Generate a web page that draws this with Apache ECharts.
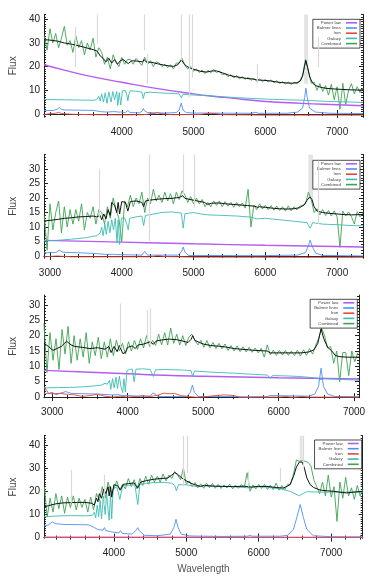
<!DOCTYPE html>
<html><head><meta charset="utf-8">
<script src="https://cdn.jsdelivr.net/npm/echarts/dist/echarts.min.js"></script>
<style>html,body{margin:0;padding:0;background:#fff}#c{width:374px;height:583px}</style>
</head><body><div id="c"></div>
<script>
// ---------------- DATA ----------------
const STEP = 40; // sampling of observed spectra (Angstrom)
const legendNames = ['Power law', 'Balmer lines', 'Iron', 'Galaxy', 'Combined'];

// Tick labels
const xTicks1 = [4000, 5000, 6000, 7000];
const xTicks2 = [3000, 4000, 5000, 6000, 7000];
const xTicks3 = [3000, 4000, 5000, 6000, 7000];
const xTicks4 = [4000, 5000, 6000, 7000];
const yTicks1 = [0, 10, 20, 30, 40];
const yTicks2 = [0, 5, 10, 15, 20, 25, 30];
const yTicks3 = [0, 5, 10, 15, 20, 25, 30];
const yTicks4 = [0, 10, 20, 30, 40];

// ----- Panel 1 -----
const greenStart1 = 2920;
const green1 = [33,27,36,30,34,28,32,37,29,31,
  26,33,28,31,25,30,27,32,24,28,
  26,21,24,19,25,22,20,24,21,23,
  23,21,23.5,22,20.5,24,21,22.5,20,22,
  21.5,20,21,19.5,20.8,19,21.5,21.5,23.5,20.5,
  19,20,18,19,17.5,18.6,17,18.5,17.4,18.8,
  17.5,18.2,16.5,17,15.8,16.6,15.2,16.2,14.8,15.8,
  14.6,15.5,14.2,15.1,13.8,14.8,13.6,14.6,13.5,14.4,
  13.2,14.1,12.8,13.7,12.7,13.5,12.5,13.4,12.8,13.9,
  16.5,23,18.5,13,13.5,10,12.8,9.5,12,8,
  12.5,6,11.5,2,13,4,10,12.8,8.5,11.5,
  9,11];
const black1 = [[2917,31.4],[3000,31.2],[3100,30.8],[3200,30.0],[3300,29.5],[3400,28.8],[3500,28.0],[3600,27.2],[3660,26.5],[3700,24.5],[3740,23.5],[3780,22],[3820,23.5],[3860,21.5],[3900,23],[3940,21],[3980,22.5],[4020,23],[4060,22],[4090,21.3],[4140,22.5],[4220,22.3],[4290,22],[4310,23],[4340,22],[4420,21.8],[4500,21.2],[4580,20.7],[4660,20.3],[4720,20.1],[4780,20.8],[4810,22],[4830,22.9],[4860,21.5],[4900,20.2],[4960,19.3],[5020,18.7],[5100,18],[5180,17.7],[5260,18.2],[5320,18.2],[5400,17.4],[5500,16.3],[5580,15.8],[5660,15.4],[5740,15],[5820,14.8],[5880,14.4],[5900,14.6],[5980,14.2],[6060,14],[6140,13.6],[6220,13.3],[6300,13.1],[6380,13],[6440,13.2],[6490,14],[6520,16],[6545,20],[6565,22.6],[6590,19.5],[6620,15.5],[6660,13],[6700,12],[6780,11.2],[6860,10.8],[6940,10.6],[7060,10.4],[7180,10.2],[7300,10.1],[7361,10.2]];
const galaxy1 = [[2917,6.1],[3200,6.0],[3400,5.9],[3600,5.8],[3650,6.0],[3680,7.5],[3700,5.5],[3720,8.5],[3745,5.0],[3770,9.0],[3795,4.5],[3820,9.3],[3850,5.0],[3875,9.5],[3900,6.0],[3930,9.5],[3945,3.6],[3965,9.0],[3985,3.8],[4010,9.8],[4050,9.9],[4070,8],[4085,5.5],[4100,8.5],[4120,9.8],[4200,9.6],[4280,9.2],[4300,6.5],[4320,9.0],[4400,9.2],[4500,9.0],[4600,8.8],[4700,8.7],[4800,8.5],[4815,9.2],[4830,6.8],[4850,8.3],[5000,8.0],[5200,7.7],[5400,7.3],[5600,6.9],[5800,6.6],[6000,6.3],[6200,6.1],[6400,5.9],[6545,5.8],[6565,5.2],[6590,5.7],[6800,5.4],[7000,5.2],[7361,4.9]];
const power1 = [[2917,20.8],[3200,18.5],[3500,16.3],[4000,13.4],[4500,10.7],[5000,8.5],[5330,7.3],[5500,6.8],[6000,5.3],[6500,4.5],[7000,3.9],[7361,3.5]];
const balmer1 = [[2917,1.4],[3050,1.5],[3100,2.0],[3130,2.7],[3160,2.0],[3200,1.7],[3400,1.6],[3600,1.5],[3650,1.3],[3700,1.0],[3800,0.8],[3870,1.0],[3889,1.8],[3910,1.0],[3955,0.8],[3970,1.3],[3985,0.8],[4050,0.6],[4085,1.5],[4115,0.6],[4250,0.5],[4285,1.3],[4300,2.3],[4315,1.4],[4360,0.6],[4600,0.4],[4760,0.6],[4800,1.6],[4828,4.6],[4855,1.6],[4900,0.6],[5000,0.4],[5800,0.3],[5870,0.7],[5900,0.3],[6300,0.3],[6450,0.8],[6520,2.5],[6548,7],[6566,10.9],[6584,7],[6615,2.5],[6700,0.8],[6900,0.3],[7361,0.2]];
const iron1 = [[2917,-0.2],[3000,0.1],[3080,0.3],[3120,0.7],[3160,0.2],[3300,-0.1],[3600,-0.3],[4000,-0.4],[4300,-0.3],[4450,0.2],[4500,0.6],[4560,0.1],[4700,-0.3],[5100,-0.2],[5200,0.3],[5300,0.2],[5400,-0.3],[6000,-0.5],[7361,-0.5]];
const mask1 = [[3347,19.8,36.7],[3662,29.7,42],[4320,26.9,42],[4356,12.7,25.4],[4825,22.6,42],[4935,7,42],[4981,15.5,42],[5884,12.7,21.2],[6741,19.8,32.5]];
const band1 = [6540,6597,12.7,42];

// ----- Panel 2 -----
const greenStart2 = 2920;
const green2 = [14,2,18,9,15,19,8,17,10,16,
  11,16,12,18,9,15,13,17,11,16,
  15,11,17,13,20,16,13,5,19,17,
  21,17,20,18,22,15,20,18,23,19,
  21,18.5,22,19,21.5,18,22,19.5,22.5,21,
  18.5,20.5,18,20,18,19.5,17,18.5,17,19,
  17.5,19,17,18.8,17.2,18.5,16.8,18.5,17,18.3,
  16.5,23,10,17.5,16,18,16.2,17.5,16,17.4,
  15.8,17.2,15.7,17,15.5,17.3,15.6,17,15.9,17.2,
  17.5,18,22,19.5,15,16.3,14.2,16,14,15.7,
  13.8,15.6,13.5,3,15.5,13.8,15.2,13.6,11,15.3,
  13.5,15];
const black2 = [[2917,12.1],[3000,12.3],[3100,12.6],[3200,13.0],[3300,13.2],[3400,13.5],[3500,13.6],[3600,13.8],[3650,13.5],[3700,14],[3720,12.5],[3750,14.5],[3780,12.8],[3810,16],[3840,14],[3860,18.5],[3900,17.5],[3930,15],[3950,18.5],[3970,14.5],[4000,18.8],[4050,18.5],[4085,15.5],[4120,18.8],[4200,19],[4280,18.5],[4305,17],[4330,19],[4400,19.3],[4500,19.6],[4600,19.8],[4700,19.9],[4800,20.2],[4850,20.8],[4880,19.9],[4950,19.5],[5050,19],[5150,18.5],[5200,17.8],[5250,18.2],[5350,18.3],[5450,18],[5550,17.8],[5650,17.6],[5750,17.4],[5850,17.2],[5890,16.8],[5920,17],[6000,16.8],[6100,16.5],[6200,16.3],[6300,16.2],[6400,16.3],[6480,16.7],[6540,17.6],[6580,19.2],[6620,20.4],[6650,19.5],[6680,17],[6720,15.5],[6800,15],[6900,14.7],[7000,14.5],[7100,14.3],[7200,14.2],[7361,14.3]];
const galaxy2 = [[2917,5.2],[3100,5.4],[3300,5.8],[3500,6.3],[3600,6.8],[3650,7.0],[3700,8.0],[3720,10],[3740,7],[3765,11],[3785,7.5],[3810,12],[3835,8],[3860,12.5],[3885,9],[3910,13],[3935,4.5],[3950,12.5],[3970,4.0],[3995,13],[4040,13.2],[4070,11],[4090,9],[4110,13],[4200,13.5],[4280,13.8],[4305,10.5],[4330,14],[4450,14.5],[4550,15],[4700,15.2],[4830,14.8],[4856,9.6],[4880,14.6],[5000,15],[5100,14.5],[5200,14.2],[5400,14],[5600,13.8],[5800,13.4],[5880,12.8],[5900,13.3],[6000,13],[6200,12.5],[6400,12],[6580,11.5],[6625,9.6],[6660,11.5],[6800,11],[7000,10.8],[7200,10.5],[7361,10.4]];
const power2 = [[2917,5.4],[4000,4.8],[5000,4.2],[6000,3.7],[7361,3.1]];
const balmer2 = [[2917,1.1],[3080,1.2],[3130,2.0],[3180,1.3],[3400,1.1],[3600,0.9],[3800,0.5],[3870,0.6],[3889,1.2],[3910,0.5],[4070,0.4],[4090,0.9],[4110,0.4],[4280,0.3],[4320,1.6],[4360,0.3],[4780,0.3],[4830,1.3],[4856,3.1],[4880,1.3],[4930,0.2],[5900,0.1],[6450,0.3],[6560,1.2],[6600,3.5],[6625,5.5],[6650,3.5],[6700,1.0],[6800,0.2],[7361,0.0]];
const iron2 = [[2917,-0.3],[3100,0.0],[3300,-0.3],[4400,-0.3],[4500,0.1],[4600,-0.2],[5000,-0.4],[7361,-0.5]];
const mask2 = [[3685,13.3,30],[4380,5.2,35],[4856,21.3,35],[5005,16.7,35],[6740,11,32.9]];
const band2 = [6600,6665,19.6,35];

// ----- Panel 3 -----
const greenStart3 = 2890;
const green3 = [24,8,21,12,19,9,22,14,23,11,
  20,12,19,13,21,11,18,13.5,19.5,12.5,
  18,13,19,13.5,18.5,15,17.5,14,18,15,
  18.5,15.5,19,16,20,16.5,18.5,16.8,20.5,17,
  21,17,22.5,17.5,20.5,17,20,16.8,19.5,20.5,
  18.5,17,18.5,16.2,18.4,16,17.8,15.8,17.5,15.7,
  17.3,15.2,16.8,15,16.7,14.8,16.4,14.7,16.2,14.6,
  16,14.4,15.9,13,17,13.8,15.3,13.6,15.2,13.7,
  15.2,13.6,15,13.5,15.3,13.4,15.4,13.6,15.8,14,
  16.8,19,22.5,20,16,16.5,11,15,5,14.5,
  14.5,7,15,11.5,14.5];
const black3 = [[2891,17.5],[2950,16.5],[3010,15.2],[3060,15.8],[3120,16.5],[3190,18.2],[3250,17],[3300,16.5],[3400,16.2],[3500,15.8],[3600,16.1],[3700,15.6],[3750,16.5],[3780,14.5],[3820,16.5],[3860,14.8],[3890,16.8],[3935,14.2],[3970,14.5],[4000,16.2],[4060,16.7],[4100,15.8],[4140,17],[4200,17.2],[4300,18],[4340,17.2],[4380,18.3],[4450,18.6],[4550,18.9],[4650,18.7],[4720,18.3],[4800,17.8],[4840,18.8],[4862,20],[4890,18.5],[4950,17.8],[5000,17.3],[5100,16.8],[5200,16.6],[5300,16.3],[5413,15.8],[5500,15.6],[5600,15.4],[5700,15.2],[5850,15],[5890,14.4],[6000,14.4],[6100,14.4],[6200,14.4],[6300,14.4],[6400,14.7],[6470,15.4],[6520,17.5],[6563,22.2],[6600,19],[6650,16.2],[6700,15.2],[6750,13.6],[6800,13.2],[6900,13],[7000,13],[7066,13]];
const galaxy3 = [[2891,3.0],[3100,3.1],[3300,3.2],[3500,3.5],[3650,3.9],[3700,4.5],[3730,4.2],[3760,5.5],[3775,2.5],[3800,6.0],[3820,3.0],[3845,6.5],[3865,2.8],[3890,6.8],[3910,3.5],[3934,1.5],[3950,6],[3969,1.7],[3990,8.5],[4020,9.0],[4060,9.1],[4085,5.0],[4110,9.1],[4200,9.2],[4300,9.0],[4340,6.7],[4370,8.9],[4500,9.0],[4600,8.9],[4750,8.8],[4840,8.6],[4862,6.7],[4885,8.5],[5000,8.3],[5200,8.0],[5413,7.8],[5600,7.5],[5850,7.2],[5890,6.1],[5920,7.0],[6100,6.9],[6289,6.7],[6500,6.2],[6563,5.7],[6600,6.0],[6800,5.8],[7066,5.5]];
const power3 = [[2891,8.7],[3500,8.1],[4000,7.6],[4500,7.1],[5000,6.8],[6000,6.3],[7066,5.9]];
const balmer3 = [[2891,1.2],[3000,1.1],[3100,1.2],[3180,1.8],[3250,1.2],[3400,1.1],[3600,1.0],[3800,0.7],[3870,0.8],[3889,1.4],[3905,0.6],[3955,0.5],[3970,1.0],[3985,0.5],[4080,0.4],[4100,1.0],[4120,0.3],[4300,0.3],[4330,1.3],[4345,1.8],[4360,1.1],[4400,0.2],[4780,0.2],[4830,1.5],[4858,3.9],[4885,1.5],[4940,0.2],[5850,0.1],[5877,0.5],[5900,0.1],[6400,0.3],[6480,1.0],[6530,3.5],[6563,9.4],[6595,3.5],[6650,1.0],[6750,0.2],[7066,0.1]];
const iron3 = [[2891,2.8],[2920,2.5],[2950,1.2],[3000,1.5],[3050,0.8],[3100,1.2],[3200,0.9],[3300,0.7],[3400,0.2],[3500,0.5],[3600,0.9],[3700,0.3],[3800,0.0],[3900,0.3],[4000,0.0],[4100,0.2],[4200,0.4],[4300,0.2],[4400,0.6],[4480,1.3],[4550,1.1],[4620,1.2],[4700,0.5],[4800,0.2],[4900,0.0],[5000,0.0],[5100,0.3],[5200,0.6],[5300,0.7],[5400,0.5],[5450,0.2],[5500,-0.2],[5700,0.0],[6000,0.0],[6100,0.2],[6200,-0.1],[6300,0.2],[6400,0.0],[7066,0.0]];
const mask3 = [[3735,21.7,33.3],[3905,16.1,30.5],[4260,18.3,28.3],[4300,16.1,28.9],[4855,20.5,33.3],[4965,18.3,33.3],[5005,16.1,33.3],[6555,23.9,33.3],[6750,16.1,33.3]];
const band3 = null;

// ----- Panel 4 -----
const greenStart4 = 3040;
const green4 = [22,9,17,11,19,12.5,18,10.5,17.5,13,
  18,12,17,13,16.5,11,17.5,12,19,16,
  22,17,24,19.5,21,24.5,20.5,23,21,25.5,
  22,25,21,25.5,22.5,26.5,23,27,24,26.5,
  24,27.5,24.5,27,25.5,28.5,27,25,30,23,
  24.5,22,23.8,21.5,23.2,21.3,23.5,21.5,23.4,21.3,
  23,21.2,22.8,21.4,23.1,21,22.7,21.3,22.9,21.5,
  28,20,22.8,21,23,21.2,23,20.8,22.6,20.7,
  23.5,20.5,22.5,20.8,23,23,27.5,33.5,33,33.2,
  33,32.5,31,25,22,19,24,18,27,17.5,
  22,7,24,17,26,18,21.5,16.5,22.5,18,
  21];
const black4 = [[3036,13.3],[3100,13.8],[3200,14.6],[3300,15],[3400,15.1],[3500,15.2],[3600,15.2],[3700,14.8],[3730,14.0],[3760,17],[3780,15.5],[3800,19],[3830,17],[3860,21],[3890,19],[3920,22],[3935,18],[3955,22],[3970,17.5],[4000,22.8],[4050,22.5],[4090,20.5],[4130,23],[4200,23.3],[4280,23.6],[4330,21.4],[4370,24],[4450,24.6],[4550,25.2],[4650,25.5],[4740,25.7],[4800,27],[4840,28.1],[4880,27.3],[4940,25.7],[5010,24.3],[5100,23],[5194,22.1],[5250,22.6],[5300,22.4],[5400,22.2],[5500,22.1],[5650,22.0],[5800,22.2],[5900,21.8],[6000,22.1],[6112,22.1],[6250,21.6],[6342,21.4],[6430,22.8],[6480,26.4],[6520,30.5],[6560,32.6],[6600,32.6],[6630,30],[6663,25.8],[6709,22.9],[6760,21.6],[6850,20.5],[6950,20.2],[7030,20],[7150,19.5],[7213,19.3],[7300,19.6],[7435,20]];
const galaxy4 = [[3036,9.0],[3200,9.3],[3400,9.5],[3600,9.4],[3700,9.5],[3730,11],[3750,8.5],[3770,14],[3790,9],[3810,16],[3830,8],[3855,18],[3880,10],[3900,19],[3920,12],[3935,7.5],[3955,19],[3970,8],[3990,21],[4040,22],[4083,16.5],[4120,22.3],[4200,22.6],[4290,22.8],[4330,14.3],[4360,23],[4450,23.4],[4550,23.8],[4700,23.8],[4800,23.5],[4840,22.5],[4863,20.2],[4890,22.8],[5000,22.8],[5150,22],[5250,22.3],[5400,22.1],[5600,22.1],[5890,21.4],[5920,22],[6100,21.8],[6300,21],[6433,20],[6560,18],[6580,17.8],[6610,19],[6663,19.8],[6900,19.6],[7200,19.7],[7435,19.6]];
const power4 = [[3036,0.15],[7435,0.1]];
const balmer4 = [[3036,5.0],[3100,5.5],[3150,6.8],[3200,6.0],[3300,5.7],[3500,5.6],[3650,5.5],[3720,4.5],[3780,3.5],[3850,3.2],[3870,4.3],[3890,3.0],[3950,2.6],[3970,3.2],[3990,2.4],[4070,2.0],[4092,3.0],[4115,1.8],[4250,1.5],[4310,3.2],[4330,4.3],[4350,3.0],[4420,1.0],[4600,0.8],[4780,1.5],[4830,4.5],[4858,7.9],[4885,4.5],[4930,1.5],[5050,0.7],[5500,0.5],[5850,0.6],[5882,1.0],[5910,0.6],[6300,0.6],[6400,1.0],[6480,3.6],[6525,8.6],[6572,14.3],[6617,8.6],[6663,3.6],[6755,0.8],[7000,0.4],[7435,0.3]];
const iron4 = [[3036,0.05],[7435,0.05]];
const mask4 = [[3417,15,29.3],[3862,13.6,27.1],[4955,22.1,44],[5010,27.8,44],[5855,22,28.5],[6296,24.3,30],[6620,30,44]];
const band4 = [6565,6606,33,44];

// ---------------- LAYOUT / STYLE ----------------
const FONT = '"Liberation Sans", Arial, Helvetica, sans-serif';
const COL = {green:'#3ea352', black:'#111111', galaxy:'#3cbcb4', power:'#b55cf2', balmer:'#4f8ff7', iron:'#e5483b', mask:'#d9d9d9'};

function ticksBetween(a, b, s) { const r = []; for (let v = Math.ceil(a / s) * s; v <= b + 1e-9; v += s) r.push(Math.round(v * 1000) / 1000); return r; }
function sampled(start, vals) { return vals.map((v, i) => [start + i * STEP, v]); }

const PANELS = [
  {gs: greenStart1, green: green1, black: black1, galaxy: galaxy1, power: power1, balmer: balmer1, iron: iron1, mask: mask1, band: band1,
   x: [2917, 7361], y: [-1.4, 42.1], xt: xTicks1, yt: yTicks1, grid: [43, 14.3, 320, 103], lg: [14, 19.3], nameGap: 25, xName: ''},
  {gs: greenStart2, green: green2, black: black2, galaxy: galaxy2, power: power2, balmer: balmer2, iron: iron2, mask: mask2, band: band2,
   x: [2917, 7361], y: [-0.8, 35.1], xt: xTicks2, yt: yTicks2, grid: [43, 154.3, 320, 104], lg: [14, 160.3], nameGap: 25, xName: ''},
  {gs: greenStart3, green: green3, black: black3, galaxy: galaxy3, power: power3, balmer: balmer3, iron: iron3, mask: mask3, band: band3,
   x: [2891, 7066], y: [-0.2, 33.26], xt: xTicks3, yt: yTicks3, grid: [40.7, 295, 318.3, 102.7], lg: [16.7, 299.3], nameGap: 23, xName: ''},
  {gs: greenStart4, green: green4, black: black4, galaxy: galaxy4, power: power4, balmer: balmer4, iron: iron4, mask: mask4, band: band4,
   x: [3036, 7435], y: [-0.3, 44.0], xt: xTicks4, yt: yTicks4, grid: [43.3, 435.7, 319.4, 102.6], lg: [12.3, 440], nameGap: 25, xName: 'Wavelength'}
];

const option = {animation: false, backgroundColor: '#fff', grid: [], xAxis: [], yAxis: [], legend: [], series: []};
const axLine = {show: true, lineStyle: {color: '#222', width: 1}};
const plain = v => String(v);

PANELS.forEach((P, p) => {
  option.grid.push({left: P.grid[0], top: P.grid[1], width: P.grid[2], height: P.grid[3]});
  const xi = option.xAxis.length, yi = option.yAxis.length;
  const xMinor = ticksBetween(P.x[0], P.x[1], 200);
  const yMinor = ticksBetween(P.y[0], P.y[1], 1);
  const xb = {type: 'value', gridIndex: p, min: P.x[0], max: P.x[1], splitLine: {show: false}, axisPointer: {show: false}};
  const yb = {type: 'value', gridIndex: p, min: P.y[0], max: P.y[1], splitLine: {show: false}, axisPointer: {show: false}};
  const tick = (vals, len) => ({show: true, inside: true, length: len, customValues: vals, lineStyle: {color: '#222', width: 1}});
  option.xAxis.push(
    Object.assign({}, xb, {position: 'bottom', axisLine: axLine, axisTick: tick(P.xt, 4),
      axisLabel: {show: true, customValues: P.xt, formatter: plain, margin: 10, fontSize: 10, color: '#222', fontFamily: FONT},
      name: P.xName, nameLocation: 'middle', nameGap: 26, nameTextStyle: {fontSize: 10, color: '#555', fontFamily: FONT}}),
    Object.assign({}, xb, {position: 'bottom', axisLine: {show: false}, axisTick: tick(xMinor, 2), axisLabel: {show: false}}),
    Object.assign({}, xb, {position: 'top', axisLine: axLine, axisTick: tick(P.xt, 4), axisLabel: {show: false}}),
    Object.assign({}, xb, {position: 'top', axisLine: {show: false}, axisTick: tick(xMinor, 2), axisLabel: {show: false}})
  );
  option.yAxis.push(
    Object.assign({}, yb, {position: 'left', axisLine: axLine, axisTick: tick(P.yt, 4),
      axisLabel: {show: true, customValues: P.yt, formatter: plain, margin: 4, fontSize: 10, color: '#222', fontFamily: FONT},
      name: 'Flux', nameLocation: 'middle', nameGap: P.nameGap, nameRotate: 90, nameTextStyle: {fontSize: 10, color: '#444', fontFamily: FONT}}),
    Object.assign({}, yb, {position: 'left', axisLine: {show: false}, axisTick: tick(yMinor, 2), axisLabel: {show: false}}),
    Object.assign({}, yb, {position: 'right', axisLine: axLine, axisTick: tick(P.yt, 4), axisLabel: {show: false}}),
    Object.assign({}, yb, {position: 'right', axisLine: {show: false}, axisTick: tick(yMinor, 2), axisLabel: {show: false}})
  );
  const ax = {xAxisIndex: xi, yAxisIndex: yi};
  const line = (name, data, color, width, z, extra) => Object.assign({type: 'line', name, data, symbol: 'none', silent: true, z,
    lineStyle: {color, width}, itemStyle: {color}, color}, ax, extra || {});
  const maskSeries = line('mask', [], COL.mask, 1, 1, {
    markLine: {symbol: 'none', silent: true, animation: false, label: {show: false}, lineStyle: {color: COL.mask, width: 1.2, type: 'solid'},
      data: P.mask.map(m => [{coord: [m[0], m[1]]}, {coord: [m[0], m[2]]}])}
  });
  if (P.band) maskSeries.markArea = {silent: true, itemStyle: {color: '#e4e4e4'}, data: [[{coord: [P.band[0], P.band[2]]}, {coord: [P.band[1], P.band[3]]}]]};
  option.series.push(
    maskSeries,
    line('Combined', sampled(P.gs, P.green), COL.green, 0.9, 2),
    line('Power law', P.power, COL.power, 1.4, 3, {smooth: true}),
    line('Galaxy', P.galaxy, COL.galaxy, 0.9, 3),
    line('Balmer lines', P.balmer, COL.balmer, 0.9, 3),
    line('Iron', P.iron, COL.iron, 0.9, 3),
    line('Model', P.black, COL.black, 1.0, 4)
  );
  option.legend.push({
    data: legendNames, orient: 'vertical', align: 'right', right: P.lg[0], top: P.lg[1],
    icon: 'rect', itemWidth: 11, itemHeight: 1.6, itemGap: 0.2, padding: [1, 3, 2, 4],
    borderColor: '#222', borderWidth: 0.8, backgroundColor: '#fff', selectedMode: false,
    textStyle: {fontSize: 4.4, lineHeight: 5, color: '#444', fontFamily: FONT}
  });
});

const chart = echarts.init(document.getElementById('c'), null, {renderer: 'canvas'});
chart.setOption(option);
</script></body></html>
